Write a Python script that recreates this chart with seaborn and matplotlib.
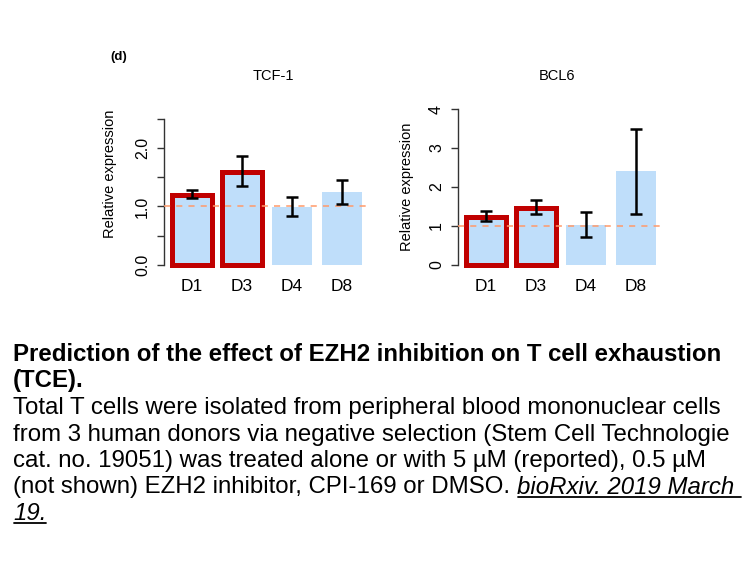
import matplotlib
matplotlib.use('Agg')
import numpy as np
import pandas as pd
import seaborn as sns
import matplotlib.pyplot as plt

# Data
days = ['D1', 'D3', 'D4', 'D8']
highlighted = ['D1', 'D3']

tcf1_mean = [1.19, 1.58, 0.985, 1.24]
tcf1_low = [1.15, 1.35, 0.83, 1.04]
tcf1_high = [1.28, 1.86, 1.16, 1.45]

bcl6_mean = [1.24, 1.47, 1.03, 2.41]
bcl6_low = [1.12, 1.32, 0.72, 1.32]
bcl6_high = [1.39, 1.67, 1.37, 3.50]

tcf1_ticks = [0, 0.5, 1.0, 1.5, 2.0, 2.5]
tcf1_ticklabels = ['0.0', '', '1.0', '', '2.0', '']
bcl6_ticks = [0, 1, 2, 3, 4]
bcl6_ticklabels = ['0', '1', '2', '3', '4']

reference_level = 1.0

caption_bold = ['Prediction of the effect of EZH2 inhibition on T cell exhaustion',
                '(TCE).']
caption_body = ['Total T cells were isolated from peripheral blood mononuclear cells',
                'from 3 human donors via negative selection (Stem Cell Technologie',
                'cat. no. 19051) was treated alone or with 5 \u00b5M (reported), 0.5 \u00b5M',
                '(not shown) EZH2 inhibitor, CPI-169 or DMSO. ']
citation = ['bioRxiv. 2019 March ', '19.']

sns.set_style('white')
plt.rcParams['font.family'] = ['Liberation Sans', 'DejaVu Sans']
plt.rcParams['text.color'] = 'black'
plt.rcParams['xtick.color'] = 'black'
plt.rcParams['ytick.color'] = 'black'
plt.rcParams['axes.labelcolor'] = 'black'

W, H = 756, 567
fig = plt.figure(figsize=(W / 100, H / 100), dpi=100)

bar_blue = '#BFDEFA'
red = '#C00000'
dash_col = '#FF9A6A'


def px_axes(left, top, width, bottom):
    return fig.add_axes([left / W, 1 - bottom / H, width / W, (bottom - top) / H])


def panel(ax, mean, low, high, ticks, ticklabels, ylim, title, title_x, ylab_xy):
    df = pd.DataFrame({'day': days, 'value': mean})
    sns.barplot(data=df, x='day', y='value', color=bar_blue, saturation=1,
                width=0.8, errorbar=None, linewidth=0, ax=ax, zorder=1)
    for patch, d in zip(ax.patches, days):
        if d in highlighted:
            patch.set_edgecolor(red)
            patch.set_linewidth(3.6)
            patch.set_joinstyle('miter')
    ax.axhline(reference_level, color=dash_col, lw=1.1, ls=(0, (4, 4)), zorder=3)
    m = np.array(mean)
    yerr = [m - np.array(low), np.array(high) - m]
    ax.errorbar(np.arange(len(days)), m, yerr=yerr, fmt='none', ecolor='black',
                elinewidth=1.8, capsize=4.3, capthick=1.8, zorder=4)
    ax.set_xlim(-0.56, 3.53)
    ax.set_ylim(*ylim)
    ax.set_yticks(ticks, ticklabels)
    for lbl in ax.get_yticklabels():
        lbl.set_rotation(90)
        lbl.set_va('center')
    ax.tick_params(axis='y', length=5, width=1, color='#333333', pad=5,
                   labelsize=11.5, left=True)
    ax.tick_params(axis='x', length=0, pad=6, labelsize=12.5)
    for s in ['top', 'right', 'bottom']:
        ax.spines[s].set_visible(False)
    ax.spines['left'].set_color('#333333')
    ax.spines['left'].set_linewidth(1)
    ax.spines['left'].set_bounds(ticks[0], ticks[-1])
    ax.set_xlabel('')
    ax.set_ylabel('')
    ax.set_facecolor('none')
    fig.text(title_x / W, 1 - 76 / H, title, ha='center', va='center', fontsize=10.5)
    fig.text(ylab_xy[0] / W, 1 - ylab_xy[1] / H, 'Relative expression', rotation=90,
             ha='center', va='center', fontsize=10.5)


ax1 = px_axes(164, 112, 204.5, 271)
panel(ax1, tcf1_mean, tcf1_low, tcf1_high, tcf1_ticks, tcf1_ticklabels,
      (-6 / 58.6, 153 / 58.6), 'TCF-1', 273, (110, 174))

ax2 = px_axes(458, 103, 204.5, 271)
panel(ax2, bcl6_mean, bcl6_low, bcl6_high, bcl6_ticks, bcl6_ticklabels,
      (-6 / 39, 162 / 39), 'BCL6', 557, (407, 187))

fig.text(119 / W, 1 - 57 / H, '(d)', ha='center', va='center', fontsize=9.5,
         fontweight='bold')

# caption, in pixel coordinates
cap = fig.add_axes([0, 0, 1, 1])
cap.set_xlim(0, W)
cap.set_ylim(H, 0)
cap.axis('off')

x0 = 13
pitch = 26.5
base = 361
fs = 17.3
for i, line in enumerate(caption_bold):
    cap.text(x0, base + i * pitch, line, fontsize=fs, fontweight='bold', va='baseline')
row = len(caption_bold)
last = None
for line in caption_body:
    last = cap.text(x0, base + row * pitch, line, fontsize=fs, va='baseline')
    row += 1
row -= 1
cit1 = cap.annotate(citation[0], xy=(1, base + row * pitch), xycoords=(last, 'data'),
                    fontsize=fs, style='italic', va='baseline')
cit2 = cap.text(x0, base + (row + 1) * pitch, citation[1], fontsize=fs,
                style='italic', va='baseline')

fig.canvas.draw()
inv = cap.transData.inverted()
for t, yb in [(cit1, base + row * pitch), (cit2, base + (row + 1) * pitch)]:
    bb = t.get_window_extent()
    (xa, _), (xb, _) = inv.transform([[bb.x0, bb.y0], [bb.x1, bb.y1]])
    cap.plot([xa + 1, xb], [yb + 3, yb + 3], color='black', lw=1.3)

fig.savefig('out.png', dpi=100)
